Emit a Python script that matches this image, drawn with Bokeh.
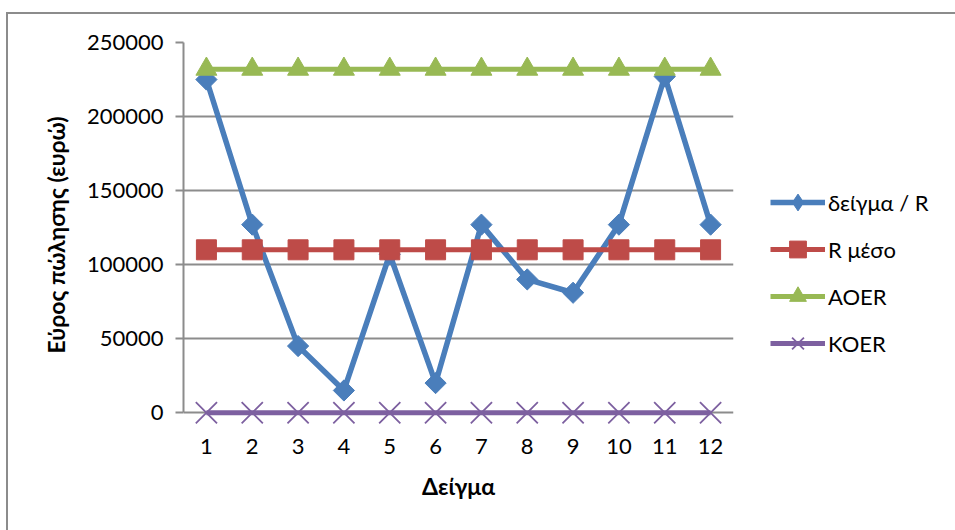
from bokeh.plotting import figure
from bokeh.layouts import row
from bokeh.models import (FixedTicker, PrintfTickFormatter, Legend, LegendItem, Range1d)
from bokeh.embed import file_html
from bokeh.resources import INLINE

# Sample index and series values
samples = [1, 2, 3, 4, 5, 6, 7, 8, 9, 10, 11, 12]
sample_range = [225000, 127000, 45000, 15000, 107000, 20000, 127000, 90000, 81000, 127000, 227000, 127000]
r_mean = [110000] * 12
aoer = [232000] * 12
koer = [0] * 12
y_ticks = [0, 50000, 100000, 150000, 200000, 250000]
series_names = ["δείγμα / R", "R μέσο", "AOER", "KOER"]

FONT = "Lato"
GRID = "#8c8c8c"
LW = 5
blue, red, green, purple = "#4A7EBB", "#BE4B48", "#98B954", "#7D60A0"

# Series styles: (colour, line width, marker, legend marker, size, angle, marker line width)
styles = [
    (blue, LW + 0.5, "square", "diamond", 15, 0.785398, 1),
    (red, LW, "square", "square", 20, 0.0, 1),
    (green, LW, "triangle", "triangle", 21, 0.0, 1),
    (purple, LW, "x", "x", 30, 0.0, 1.8),
]

# a little room under zero so the markers on the zero line are not cut off
p = figure(width=735, height=516, output_backend="svg", toolbar_location=None,
           x_range=Range1d(0.5, 12.5), y_range=Range1d(-10000, 250000),
           min_border_left=175, min_border_right=10, min_border_top=28, min_border_bottom=103)
p.outline_line_color = None

# Axes
p.xaxis.ticker = FixedTicker(ticks=samples)
p.yaxis.ticker = FixedTicker(ticks=y_ticks)
p.yaxis.formatter = PrintfTickFormatter(format="%d")
p.yaxis.bounds = (0, 250000)
for ax in (p.xaxis[0], p.yaxis[0]):
    ax.axis_line_color = GRID
    ax.axis_line_width = 2
    ax.major_label_text_font = FONT
    ax.major_label_text_font_size = "22px"
    ax.major_label_text_color = "black"
    ax.minor_tick_line_color = None
    ax.axis_label_text_font = FONT
    ax.axis_label_text_font_size = "23px"
    ax.axis_label_text_font_style = "bold"
    ax.axis_label_text_color = "black"
# the zero gridline doubles as the category axis line, kept beneath the series
p.xaxis.axis_line_color = None
p.xaxis.major_tick_line_color = None
p.xaxis.major_tick_out = 0
p.xaxis.major_tick_in = 0
p.xaxis.major_label_standoff = 11
p.xaxis.axis_label = "Δείγμα"
p.xaxis.axis_label_standoff = 15
p.yaxis.major_tick_line_color = GRID
p.yaxis.major_tick_line_width = 2
p.yaxis.major_tick_out = 8
p.yaxis.major_tick_in = 0
p.yaxis.major_label_standoff = 12
p.yaxis.axis_label = "Εύρος πώλησης (ευρώ)"
p.yaxis.axis_label_standoff = 14

p.xgrid.grid_line_color = None
p.ygrid.grid_line_color = GRID
p.ygrid.grid_line_width = 2

for values, (color, lw, marker, _, size, angle, mlw) in zip(
        [sample_range, r_mean, aoer, koer], styles):
    p.line(samples, values, line_color=color, line_width=lw)
    p.scatter(samples, values, marker=marker, size=size, angle=angle,
              fill_color=color, line_color=color, line_width=mlw)

# Legend panel to the right of the chart; its swatch renderers sit outside the visible range
lg = figure(width=212, height=516, output_backend="svg", toolbar_location=None,
            x_range=Range1d(0, 1), y_range=Range1d(0, 1),
            min_border=0, x_axis_location=None, y_axis_location=None)
lg.outline_line_color = None
lg.grid.grid_line_color = None
items = []
for name, (color, lw, _, lmarker, size, angle, mlw) in zip(series_names, styles):
    rl = lg.line([-5, -4], [-5, -4], line_color=color, line_width=lw)
    rm = lg.scatter([-5], [-5], marker=lmarker, size=size,
                    fill_color=color, line_color=color, line_width=mlw)
    items.append(LegendItem(label=name, renderers=[rl, rm]))

legend = Legend(items=items, location=(27, 63))
legend.label_text_font = FONT
legend.label_text_font_size = "22px"
legend.label_text_color = "black"
legend.glyph_width = 55
legend.glyph_height = 42
legend.label_height = 22
legend.spacing = 5
legend.label_standoff = 3
legend.padding = 0
legend.margin = 0
legend.border_line_color = None
legend.background_fill_alpha = 0
lg.add_layout(legend)

layout = row(p, lg, spacing=0)
layout.styles = {"margin-left": "6px", "margin-top": "12px",
                 "border-left": f"2px solid {GRID}", "border-top": f"2px solid {GRID}"}

open("out.html", "w").write(file_html(layout, INLINE))
